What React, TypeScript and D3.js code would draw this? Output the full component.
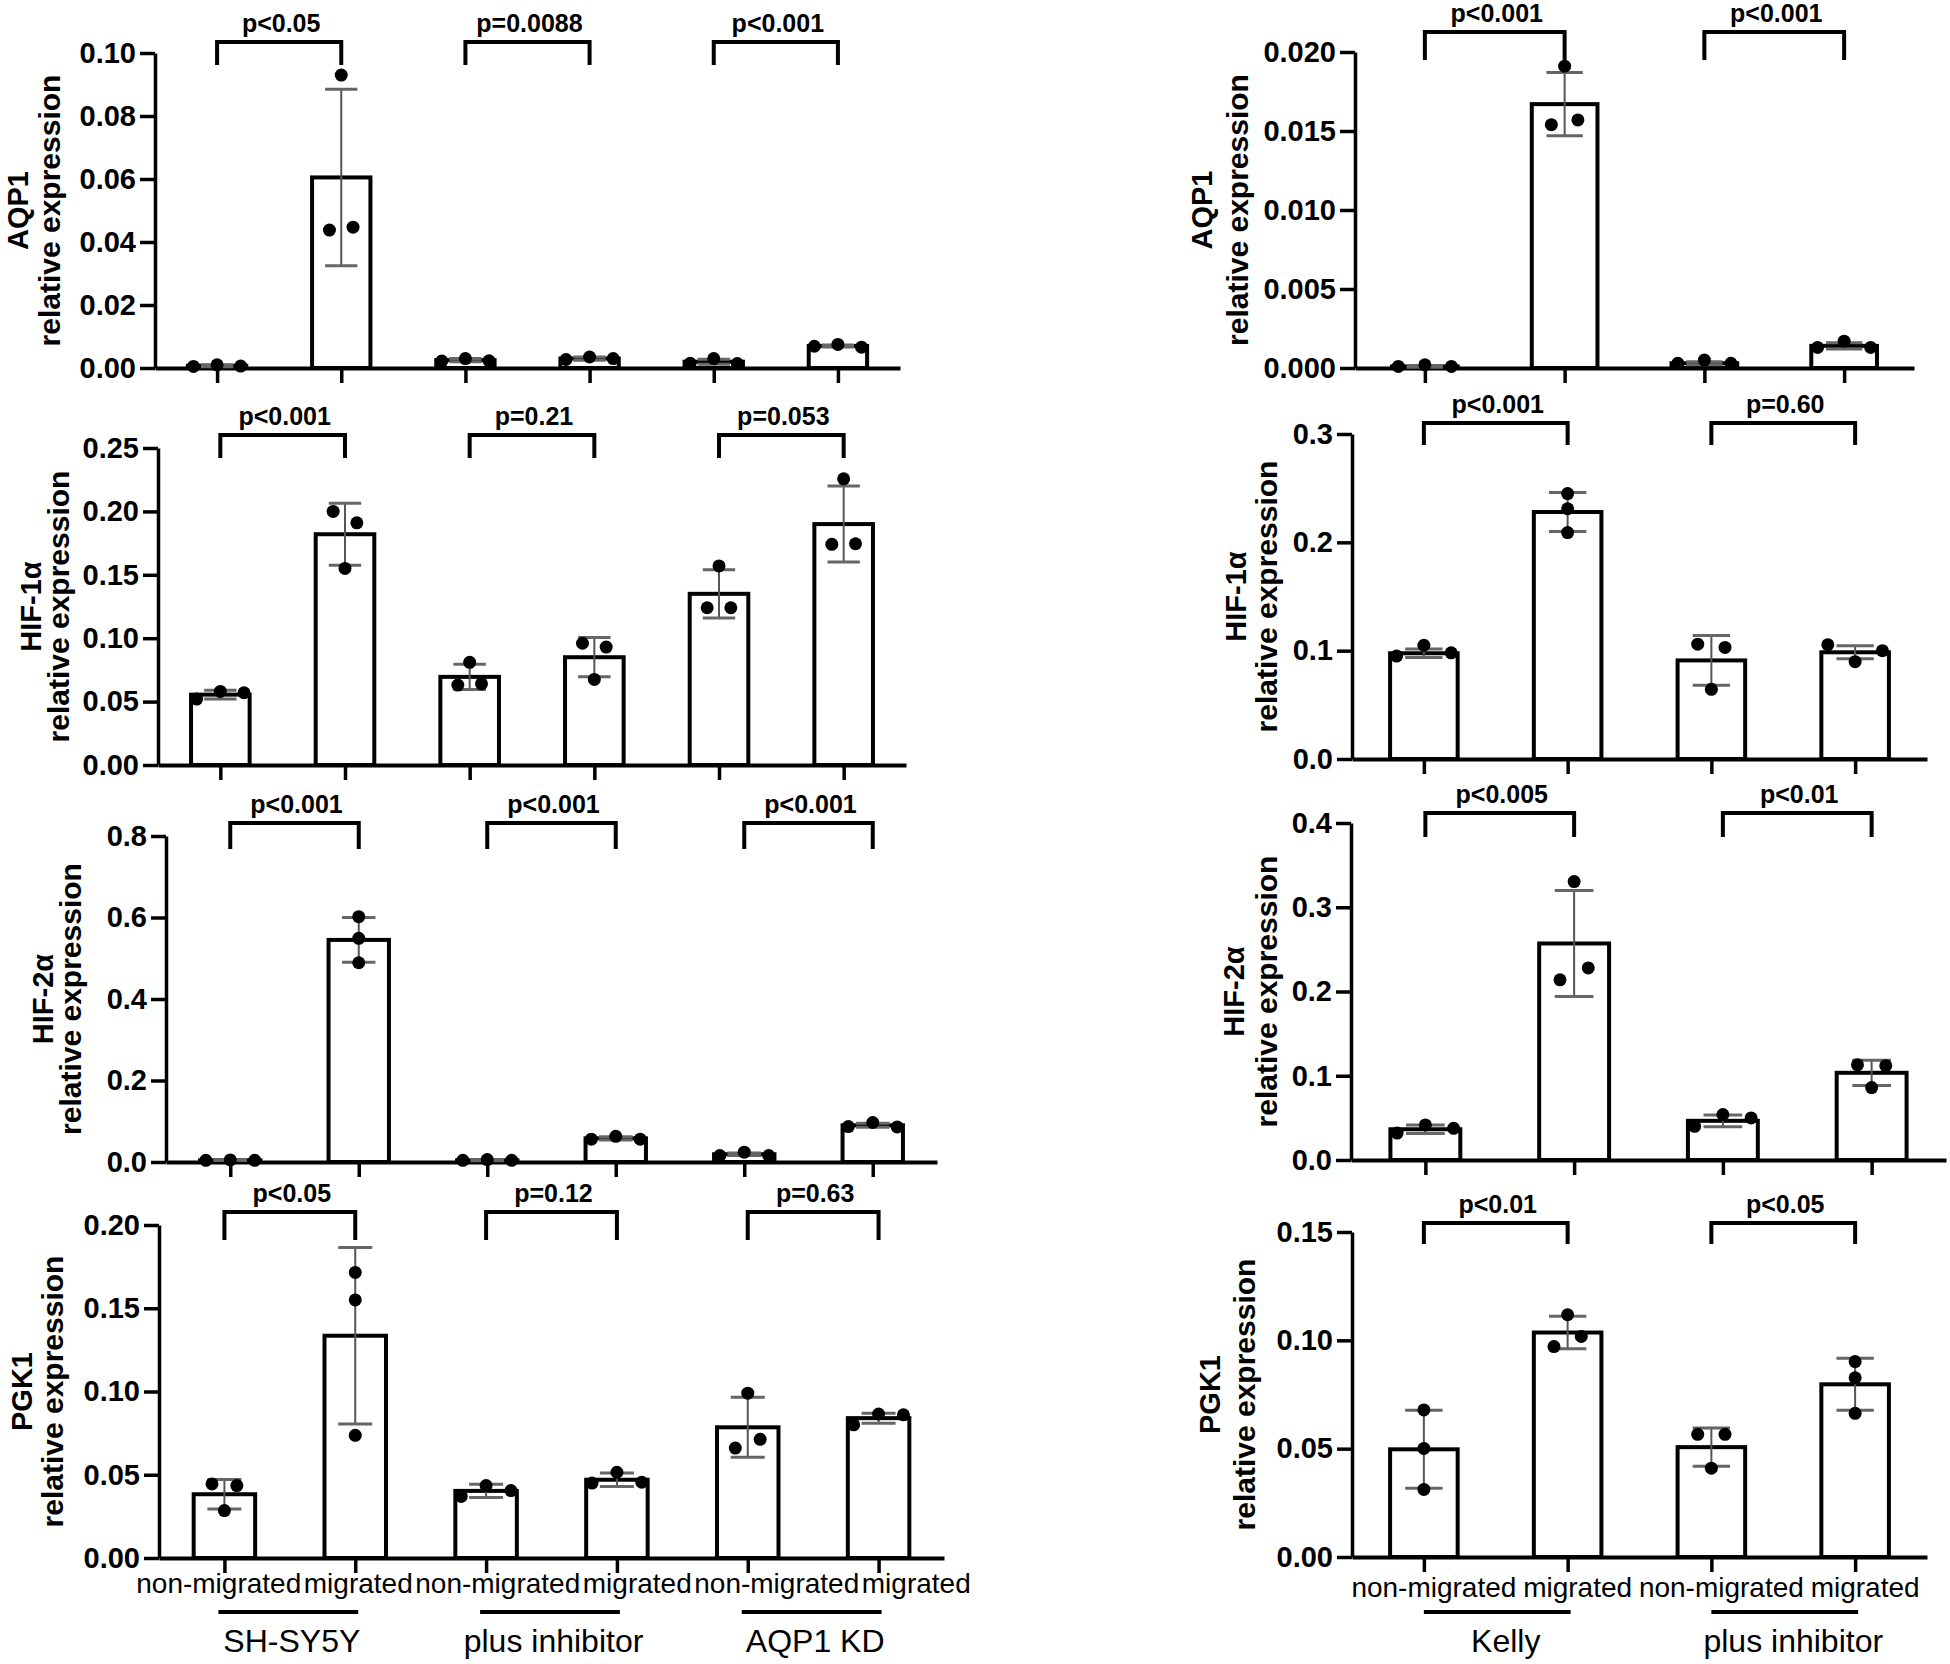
import React, { useEffect, useRef } from 'react';
import * as d3 from 'd3';

const FONT = '"Liberation Sans", Arial, Helvetica, sans-serif';

// groups and conditions
const leftGroups = ['SH-SY5Y', 'plus inhibitor', 'AQP1 KD'];
const rightGroups = ['Kelly', 'plus inhibitor'];
const conditions = ['non-migrated', 'migrated'];

// ---- SH-SY5Y panels (bar order: group x condition) ----
const L_AQP1_MEAN = [0.0007, 0.0605, 0.0025, 0.003, 0.002, 0.007];
const L_AQP1_SD = [0.0003, 0.028, 0.0005, 0.0005, 0.0008, 0.0003];
const L_AQP1_PTS = [[0.0005, 0.001, 0.0006], [0.0438, 0.093, 0.0447], [0.0022, 0.003, 0.0023], [0.0027, 0.0035, 0.003], [0.0015, 0.003, 0.0014], [0.0069, 0.0075, 0.0066]];
const L_AQP1_P = ['p<0.05', 'p=0.0088', 'p<0.001'];
const L_AQP1_TICKS = [0, 0.02, 0.04, 0.06, 0.08, 0.1];

const L_HIF1_MEAN = [0.0555, 0.182, 0.0695, 0.085, 0.135, 0.19];
const L_HIF1_SD = [0.0035, 0.0245, 0.01, 0.0155, 0.019, 0.03];
const L_HIF1_PTS = [[0.052, 0.058, 0.057], [0.2, 0.155, 0.191], [0.063, 0.081, 0.064], [0.096, 0.0675, 0.093], [0.124, 0.157, 0.124], [0.174, 0.2257, 0.1745]];
const L_HIF1_P = ['p<0.001', 'p=0.21', 'p=0.053'];
const L_HIF1_TICKS = [0, 0.05, 0.1, 0.15, 0.2, 0.25];

const L_HIF2_MEAN = [0.004, 0.545, 0.004, 0.058, 0.019, 0.09];
const L_HIF2_SD = [0.0005, 0.055, 0.0008, 0.004, 0.003, 0.005];
const L_HIF2_PTS = [[0.004, 0.005, 0.004], [0.602, 0.549, 0.489], [0.004, 0.006, 0.004], [0.056, 0.063, 0.056], [0.016, 0.024, 0.016], [0.087, 0.097, 0.086]];
const L_HIF2_P = ['p<0.001', 'p<0.001', 'p<0.001'];
const L_HIF2_TICKS = [0, 0.2, 0.4, 0.6, 0.8];

const L_PGK1_MEAN = [0.0383, 0.1335, 0.0403, 0.047, 0.0785, 0.084];
const L_PGK1_SD = [0.0088, 0.053, 0.004, 0.004, 0.018, 0.003];
const L_PGK1_PTS = [[0.0445, 0.0285, 0.0435], [0.1715, 0.155, 0.0737], [0.037, 0.0435, 0.0405], [0.045, 0.0515, 0.0455], [0.066, 0.099, 0.0713], [0.08, 0.0865, 0.086]];
const L_PGK1_P = ['p<0.05', 'p=0.12', 'p=0.63'];
const L_PGK1_TICKS = [0, 0.05, 0.1, 0.15, 0.2];

// ---- Kelly panels ----
const R_AQP1_MEAN = [0.0001, 0.0167, 0.0003, 0.0014];
const R_AQP1_SD = [0.00005, 0.002, 0.0001, 0.0002];
const R_AQP1_PTS = [[0.0001, 0.0002, 0.0001], [0.0154, 0.0191, 0.0157], [0.0003, 0.0005, 0.0003], [0.0013, 0.0017, 0.0013]];
const R_AQP1_P = ['p<0.001', 'p<0.001'];
const R_AQP1_TICKS = [0, 0.005, 0.01, 0.015, 0.02];

const R_HIF1_MEAN = [0.0976, 0.228, 0.091, 0.0985];
const R_HIF1_SD = [0.004, 0.018, 0.023, 0.006];
const R_HIF1_PTS = [[0.095, 0.105, 0.098], [0.245, 0.231, 0.209], [0.106, 0.0643, 0.103], [0.1055, 0.0898, 0.1]];
const R_HIF1_P = ['p<0.001', 'p=0.60'];
const R_HIF1_TICKS = [0, 0.1, 0.2, 0.3];

const R_HIF2_MEAN = [0.0365, 0.257, 0.0465, 0.1035];
const R_HIF2_SD = [0.005, 0.063, 0.007, 0.015];
const R_HIF2_PTS = [[0.032, 0.0416, 0.0376], [0.2138, 0.3305, 0.228], [0.04, 0.054, 0.05], [0.113, 0.086, 0.112]];
const R_HIF2_P = ['p<0.005', 'p<0.01'];
const R_HIF2_TICKS = [0, 0.1, 0.2, 0.3, 0.4];

const R_PGK1_MEAN = [0.0497, 0.1036, 0.0507, 0.0797];
const R_PGK1_SD = [0.018, 0.0075, 0.0088, 0.012];
const R_PGK1_PTS = [[0.0679, 0.0501, 0.0312], [0.0971, 0.1118, 0.1018], [0.0566, 0.041, 0.0566], [0.0902, 0.0827, 0.0663]];
const R_PGK1_P = ['p<0.01', 'p<0.05'];
const R_PGK1_TICKS = [0, 0.05, 0.1, 0.15];

// layout for each panel
const LEFT_LAB = { labelY: 1593, labA: -10, labB: 42, ul: [-6, 3], groupY: 1652, gdx: 2 };
const RIGHT_LAB = { labelY: 1597, labA: 10, labB: 10, ul: [0, 3], groupY: 1652, gdx: 10 };

const PANELS = [
  { gene: 'AQP1', mean: L_AQP1_MEAN, sd: L_AQP1_SD, pts: L_AQP1_PTS, p: L_AQP1_P, ticks: L_AQP1_TICKS, fmt: '.2f', groups: leftGroups,
    axisX: 155, xEnd: 900, yTop: 53, yBottom: 368, brTop: 42, brBot: 65, geneOff: 127, relOff: 95 },
  { gene: 'HIF-1α', mean: L_HIF1_MEAN, sd: L_HIF1_SD, pts: L_HIF1_PTS, p: L_HIF1_P, ticks: L_HIF1_TICKS, fmt: '.2f', groups: leftGroups,
    axisX: 158, xEnd: 906, yTop: 448, yBottom: 765, brTop: 435, brBot: 458, geneOff: 117, relOff: 89 },
  { gene: 'HIF-2α', mean: L_HIF2_MEAN, sd: L_HIF2_SD, pts: L_HIF2_PTS, p: L_HIF2_P, ticks: L_HIF2_TICKS, fmt: '.1f', groups: leftGroups,
    axisX: 166, xEnd: 937, yTop: 836, yBottom: 1162, brTop: 823, brBot: 849, geneOff: 113, relOff: 85 },
  { gene: 'PGK1', mean: L_PGK1_MEAN, sd: L_PGK1_SD, pts: L_PGK1_PTS, p: L_PGK1_P, ticks: L_PGK1_TICKS, fmt: '.2f', groups: leftGroups,
    axisX: 159, xEnd: 944, yTop: 1225, yBottom: 1558, brTop: 1212, brBot: 1240, geneOff: 127, relOff: 96, lab: LEFT_LAB },
  { gene: 'AQP1', mean: R_AQP1_MEAN, sd: R_AQP1_SD, pts: R_AQP1_PTS, p: R_AQP1_P, ticks: R_AQP1_TICKS, fmt: '.3f', groups: rightGroups,
    axisX: 1355, xEnd: 1914, yTop: 52, yBottom: 368, brTop: 32, brBot: 60, geneOff: 143, relOff: 107 },
  { gene: 'HIF-1α', mean: R_HIF1_MEAN, sd: R_HIF1_SD, pts: R_HIF1_PTS, p: R_HIF1_P, ticks: R_HIF1_TICKS, fmt: '.1f', groups: rightGroups,
    axisX: 1352, xEnd: 1927, yTop: 434, yBottom: 759, brTop: 423, brBot: 445, geneOff: 106, relOff: 75 },
  { gene: 'HIF-2α', mean: R_HIF2_MEAN, sd: R_HIF2_SD, pts: R_HIF2_PTS, p: R_HIF2_P, ticks: R_HIF2_TICKS, fmt: '.1f', groups: rightGroups,
    axisX: 1351, xEnd: 1946, yTop: 823, yBottom: 1160, brTop: 813, brBot: 837, geneOff: 107, relOff: 74 },
  { gene: 'PGK1', mean: R_PGK1_MEAN, sd: R_PGK1_SD, pts: R_PGK1_PTS, p: R_PGK1_P, ticks: R_PGK1_TICKS, fmt: '.2f', groups: rightGroups,
    axisX: 1352, xEnd: 1927, yTop: 1232, yBottom: 1557, brTop: 1223, brBot: 1244, geneOff: 132, relOff: 97, lab: RIGHT_LAB },
];

// horizontal offsets for replicate dots that would overlap (like Prism scatter)
function spread(vals: number[], y: (v: number) => number, spacing: number) {
  const order = vals.map((_, i) => i).sort((a, b) => vals[a] - vals[b]);
  const clusters: number[][] = [];
  let cur = [order[0]];
  for (let k = 1; k < order.length; k++) {
    if (Math.abs(y(vals[order[k]]) - y(vals[order[k - 1]])) < 14) cur.push(order[k]);
    else { clusters.push(cur); cur = [order[k]]; }
  }
  clusters.push(cur);
  const off = vals.map(() => 0);
  clusters.forEach(c => {
    c.sort((a, b) => a - b);
    c.forEach((id, j) => { off[id] = (j - (c.length - 1) / 2) * spacing; });
  });
  return off;
}

function drawPanel(svg: any, p: any) {
  const keys: string[] = [];
  p.groups.forEach((_: string, gi: number) => conditions.forEach((_c, ci) => keys.push(`${gi}-${ci}`)));

  const x = d3.scalePoint<string>().domain(keys).range([p.axisX, p.xEnd]).padding(0.5);
  const y = d3.scaleLinear().domain([0, p.ticks[p.ticks.length - 1]]).range([p.yBottom, p.yTop]);
  const step = x.step();
  const barW = step * 0.47;
  const capW = step * 0.13;
  const dotGap = step * 0.19;

  const g = svg.append('g');

  // y axis
  g.append('g')
    .attr('transform', `translate(${p.axisX},0)`)
    .call(d3.axisLeft(y).tickValues(p.ticks).tickFormat(d3.format(p.fmt)).tickSize(15).tickSizeOuter(0).tickPadding(4))
    .attr('font-family', FONT).attr('font-size', 29).attr('font-weight', 'bold')
    .call((a: any) => a.select('.domain').attr('stroke-width', 3.5))
    .call((a: any) => a.selectAll('.tick line').attr('stroke-width', 3.5))
    .call((a: any) => a.selectAll('.tick text').attr('fill', '#000'));

  // x axis
  g.append('g')
    .attr('transform', `translate(0,${y(0)})`)
    .call(d3.axisBottom(x).tickSize(15).tickSizeOuter(0).tickFormat(() => ''))
    .call((a: any) => a.select('.domain').attr('stroke-width', 4))
    .call((a: any) => a.selectAll('.tick line').attr('stroke-width', 3.5));

  // bars
  g.selectAll('rect.bar')
    .data(p.mean)
    .join('rect')
    .attr('class', 'bar')
    .attr('x', (_: number, i: number) => (x(keys[i]) as number) - barW / 2)
    .attr('y', (d: number) => y(d))
    .attr('width', barW)
    .attr('height', (d: number) => y(0) - y(d))
    .attr('fill', '#fff')
    .attr('stroke', '#000')
    .attr('stroke-width', 4);

  // error bars (mean ± SD)
  p.mean.forEach((m: number, i: number) => {
    const cx = x(keys[i]) as number;
    const lo = y(m - p.sd[i]);
    const hi = y(m + p.sd[i]);
    g.append('line').attr('x1', cx).attr('x2', cx).attr('y1', lo).attr('y2', hi)
      .attr('stroke', '#555').attr('stroke-width', 2);
    [lo, hi].forEach(yy => {
      g.append('line').attr('x1', cx - capW).attr('x2', cx + capW).attr('y1', yy).attr('y2', yy)
        .attr('stroke', '#666').attr('stroke-width', 3);
    });
  });

  // replicate dots
  p.pts.forEach((vals: number[], i: number) => {
    const cx = x(keys[i]) as number;
    const off = spread(vals, y, dotGap);
    g.selectAll(null)
      .data(vals)
      .join('circle')
      .attr('cx', (_: number, j: number) => cx + off[j])
      .attr('cy', (d: number) => y(d))
      .attr('r', 6.5)
      .attr('fill', '#000');
  });

  // significance brackets
  p.groups.forEach((_: string, gi: number) => {
    const x1 = x(`${gi}-0`) as number;
    const x2 = x(`${gi}-1`) as number;
    g.append('path')
      .attr('d', `M${x1},${p.brBot}V${p.brTop}H${x2}V${p.brBot}`)
      .attr('fill', 'none').attr('stroke', '#000').attr('stroke-width', 4);
    g.append('text')
      .attr('x', (x1 + x2) / 2 + 2).attr('y', p.brTop - 10)
      .attr('text-anchor', 'middle')
      .attr('font-family', FONT).attr('font-size', 25).attr('font-weight', 'bold')
      .text(p.p[gi]);
  });

  // y title (two lines)
  const mid = (p.yTop + p.yBottom) / 2;
  g.append('text')
    .attr('transform', `translate(${p.axisX - p.geneOff},${mid}) rotate(-90)`)
    .attr('text-anchor', 'middle')
    .attr('font-family', FONT).attr('font-size', 29).attr('font-weight', 'bold')
    .text(p.gene);
  g.append('text')
    .attr('transform', `translate(${p.axisX - p.relOff},${mid}) rotate(-90)`)
    .attr('text-anchor', 'middle')
    .attr('font-family', FONT).attr('font-size', 30).attr('font-weight', 'bold')
    .text('relative expression');

  // category + group labels on the bottom panels
  if (p.lab) {
    const L = p.lab;
    const xl = d3.scalePoint<string>().domain(keys).range([p.axisX + L.labA, p.xEnd + L.labB]).padding(0.5);
    g.selectAll('text.cat')
      .data(keys)
      .join('text')
      .attr('class', 'cat')
      .attr('x', (k: string) => xl(k))
      .attr('y', L.labelY)
      .attr('text-anchor', 'middle')
      .attr('font-family', FONT).attr('font-size', 28)
      .text((k: string) => conditions[+k.split('-')[1]]);
    p.groups.forEach((name: string, gi: number) => {
      const x1 = x(`${gi}-0`) as number;
      const x2 = x(`${gi}-1`) as number;
      g.append('line')
        .attr('x1', x1 + L.ul[0]).attr('x2', x2 + L.ul[1])
        .attr('y1', 1612).attr('y2', 1612)
        .attr('stroke', '#000').attr('stroke-width', 4);
      g.append('text')
        .attr('x', (x1 + x2) / 2 + L.gdx).attr('y', L.groupY)
        .attr('text-anchor', 'middle')
        .attr('font-family', FONT).attr('font-size', 32)
        .text(name);
    });
  }
}

export default function App() {
  const svgRef = useRef<SVGSVGElement>(null);

  useEffect(() => {
    const svg = d3.select(svgRef.current);
    svg.selectAll('*').remove();
    svg.append('rect').attr('width', 1950).attr('height', 1664).attr('fill', '#fff');
    PANELS.forEach(p => drawPanel(svg, p));
  }, []);

  return (
    <svg
      ref={svgRef}
      width={1950}
      height={1664}
      style={{ position: 'absolute', left: 0, top: 0, display: 'block' }}
    />
  );
}
